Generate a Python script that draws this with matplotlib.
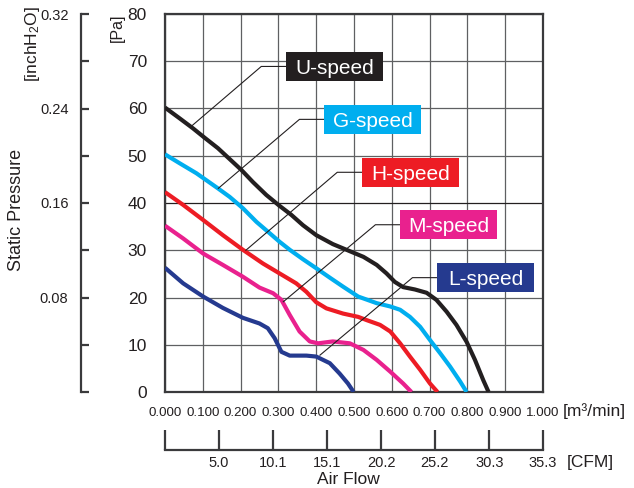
import matplotlib
matplotlib.use("Agg")
import matplotlib.pyplot as plt
from matplotlib.patches import Rectangle

plt.rcParams['font.family'] = ['Liberation Sans', 'DejaVu Sans']
plt.rcParams['mathtext.fontset'] = 'custom'
plt.rcParams['mathtext.rm'] = 'Liberation Sans'
plt.rcParams['mathtext.it'] = 'Liberation Sans'

# ---- P-Q curves: air flow [m3/min] vs static pressure [Pa] ----
u_flow = [0.0, 0.039, 0.074, 0.105, 0.140, 0.171, 0.202, 0.233, 0.268, 0.303,
          0.334, 0.365, 0.400, 0.444, 0.489, 0.525, 0.560, 0.586, 0.608, 0.630,
          0.661, 0.692, 0.718, 0.745, 0.771, 0.798, 0.820, 0.842, 0.856]
u_pres = [60.2, 57.9, 55.8, 53.8, 51.6, 49.3, 47.0, 44.4, 41.7, 39.4,
          37.5, 35.3, 33.2, 31.3, 29.8, 28.6, 26.9, 25.1, 23.3, 22.2,
          21.7, 21.0, 19.5, 17.0, 14.2, 10.6, 6.8, 2.5, 0.0]

g_flow = [0.0, 0.039, 0.083, 0.140, 0.171, 0.206, 0.242, 0.277, 0.303, 0.330,
          0.365, 0.400, 0.436, 0.471, 0.511, 0.560, 0.596, 0.622, 0.648, 0.675,
          0.701, 0.728, 0.754, 0.781, 0.798]
g_pres = [50.3, 48.4, 46.3, 43.1, 41.3, 38.9, 36.0, 33.6, 31.8, 30.1,
          28.1, 26.2, 24.2, 22.3, 20.2, 18.8, 18.1, 17.4, 15.9, 13.8,
          11.0, 8.2, 5.4, 2.2, 0.0]

h_flow = [0.0, 0.048, 0.101, 0.153, 0.206, 0.259, 0.303, 0.347, 0.374, 0.400,
          0.427, 0.471, 0.511, 0.534, 0.569, 0.596, 0.622, 0.648, 0.675, 0.701,
          0.721]
h_pres = [42.3, 39.6, 36.4, 33.2, 30.1, 27.2, 25.1, 23.0, 21.2, 19.0,
          17.7, 16.6, 15.9, 15.2, 14.2, 12.8, 10.3, 7.5, 4.7, 1.8,
          0.0]

m_flow = [0.0, 0.048, 0.101, 0.153, 0.206, 0.250, 0.286, 0.308, 0.330, 0.356,
          0.383, 0.405, 0.444, 0.489, 0.525, 0.560, 0.596, 0.630, 0.652]
m_pres = [35.2, 32.5, 29.3, 26.9, 24.4, 22.1, 20.9, 19.5, 16.3, 12.8,
          10.7, 10.3, 10.7, 10.3, 8.9, 6.8, 4.3, 1.8, 0.0]

l_flow = [0.0, 0.048, 0.101, 0.153, 0.206, 0.250, 0.272, 0.290, 0.308, 0.330,
          0.374, 0.400, 0.436, 0.462, 0.484, 0.499]
l_pres = [26.3, 23.0, 20.2, 17.8, 15.7, 14.5, 13.5, 11.4, 8.5, 7.7,
          7.7, 7.5, 6.1, 3.9, 1.8, 0.0]

series_names = ['U-speed', 'G-speed', 'H-speed', 'M-speed', 'L-speed']
series_colors = ['#231f20', '#00aeef', '#ed1c24', '#e9218e', '#253a8f']
flows = [u_flow, g_flow, h_flow, m_flow, l_flow]
pressures = [u_pres, g_pres, h_pres, m_pres, l_pres]

# label boxes (center, in data units) and the curve point each leader points to
label_centers = [(0.448, 68.9), (0.549, 57.7), (0.649, 46.5), (0.750, 35.4), (0.848, 24.2)]
leader_targets = [(0.0705, 56.3), (0.141, 43.1), (0.214, 30.0), (0.313, 19.1), (0.410, 7.8)]

flow_ticks = [0.0, 0.1, 0.2, 0.3, 0.4, 0.5, 0.6, 0.7, 0.8, 0.9, 1.0]
flow_labels = ['0.000', '0.100', '0.200', '0.300', '0.400', '0.500',
               '0.600', '0.700', '0.800', '0.900', '1.000']
pa_ticks = [0, 10, 20, 30, 40, 50, 60, 70, 80]
cfm_ticks = [5.0, 10.1, 15.1, 20.2, 25.2, 30.3, 35.3]
inch_ticks = [0.0, 0.04, 0.08, 0.12, 0.16, 0.20, 0.24, 0.28, 0.32]
inch_labels = ['', '', '0.08', '', '0.16', '', '0.24', '', '0.32']
CFM_PER_M3MIN = 35.3147

W, H = 634, 488
fig = plt.figure(figsize=(W / 100, H / 100), dpi=100)

def px_box(x0, y_bottom, w, h):
    return [x0 / W, (H - y_bottom) / H, w / W, h / H]

spine_col = '#3a3a3c'
text_col = '#231f20'

# ---- main chart ----
ax = fig.add_axes(px_box(165, 392, 378, 378))
ax.set_xlim(0, 1)
ax.set_ylim(0, 80)
ax.set_xticks(flow_ticks)
ax.set_xticklabels(flow_labels, fontsize=9.6, color=text_col)
ax.set_yticks(pa_ticks)
ax.set_yticklabels([str(v) for v in pa_ticks], fontsize=12.5, color=text_col)
ax.tick_params(axis='both', length=0)
ax.tick_params(axis='x', pad=11)
ax.tick_params(axis='y', pad=13)
ax.grid(True, color='#5f6062', linewidth=0.9)
for gl in ax.get_ygridlines():
    if abs(gl.get_ydata()[0] - 40) < 1e-6:
        gl.set_color('#231f20')
for sp in ax.spines.values():
    sp.set_color(spine_col)
    sp.set_linewidth(1.6)
ax.set_axisbelow(True)

for fx, py, col in zip(flows, pressures, series_colors):
    ax.plot(fx, py, color=col, linewidth=3.0, solid_joinstyle='round',
            solid_capstyle='butt', zorder=3, clip_on=True)

box_w = 97 / 378
box_h = 29 / 378 * 80
for name, col, (cx, cy), (tx, ty) in zip(series_names, series_colors,
                                         label_centers, leader_targets):
    left = cx - box_w / 2
    corner = left - 0.065
    ax.plot([left, corner, tx], [cy, cy, ty], color='#231f20', linewidth=0.8, zorder=4)
    ax.add_patch(Rectangle((left, cy - box_h / 2), box_w, box_h,
                           facecolor=col, edgecolor='none', zorder=5))
    ax.text(cx, cy, name, color='white', fontsize=15, ha='center', va='center_baseline',
            zorder=6)

fig.text(563 / W, 1 - 411 / H, '[m³/min]', fontsize=12.5, color=text_col,
         ha='left', va='center')
fig.text(117 / W, 1 - 28 / H, '[Pa]', fontsize=11.5, color=text_col,
         rotation=90, ha='center', va='center')

# ---- CFM scale ----
axc = fig.add_axes(px_box(165, 450, 378, 1))
axc.set_xlim(0, 1)
axc.set_ylim(0, 1)
for s in ['top', 'left', 'right']:
    axc.spines[s].set_visible(False)
axc.spines['bottom'].set_color(spine_col)
axc.spines['bottom'].set_linewidth(1.6)
axc.set_yticks([])
axc.set_xticks([0.0] + [c / CFM_PER_M3MIN for c in cfm_ticks])
axc.set_xticklabels([''] + [f'{c:.1f}' for c in cfm_ticks], fontsize=10.5, color=text_col)
axc.tick_params(axis='x', direction='in', length=14.5, width=1.6, color=spine_col, pad=4)
axc.patch.set_visible(False)
fig.text(567 / W, 1 - 463 / H, '[CFM]', fontsize=12.5, color=text_col,
         ha='left', va='center')
fig.text(348 / W, 1 - 479 / H, 'Air Flow', fontsize=12.5, color=text_col,
         ha='center', va='center')

# ---- inchH2O scale ----
axi = fig.add_axes(px_box(81, 392, 1, 378))
axi.set_ylim(0, 0.32)
axi.set_xlim(0, 1)
for s in ['top', 'bottom', 'right']:
    axi.spines[s].set_visible(False)
axi.spines['left'].set_color(spine_col)
axi.spines['left'].set_linewidth(1.6)
axi.set_xticks([])
axi.set_yticks(inch_ticks)
axi.set_yticklabels(inch_labels, fontsize=10.5, color=text_col)
axi.tick_params(axis='y', direction='in', length=6, width=1.6, color=spine_col, pad=9)
axi.patch.set_visible(False)

fig.text(33 / W, 1 - 44 / H, r'[inchH$_{2}$O]', fontsize=12.5, color=text_col,
         rotation=90, ha='center', va='center')
fig.text(17 / W, 1 - 210 / H, 'Static Pressure', fontsize=13, color=text_col,
         rotation=90, ha='center', va='center')

fig.savefig('out.png', dpi=100)
